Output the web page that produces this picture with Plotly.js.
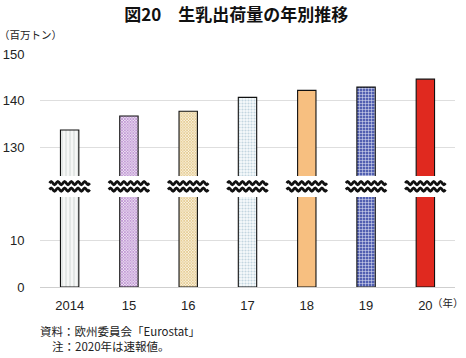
<!DOCTYPE html>
<html>
<head>
<meta charset="utf-8">
<script src="https://cdn.plot.ly/plotly-3.0.1.min.js"></script>
<style>
html,body{margin:0;padding:0;background:#fff;}
#chart{width:466px;height:358px;}
</style>
</head>
<body>
<div id="chart"></div>
<script>
// ---- data ----
const years = ["2014", "15", "16", "17", "18", "19", "20"];
const milkDeliveries = [133.7, 136.7, 137.7, 140.7, 142.2, 142.9, 144.6]; // 百万トン
const yTickValues = [0, 10, 130, 140, 150];
const yTickLabels = ["0", "10", "130", "140", "150"];

// ---- axis break (values above the break are shifted down) ----
const BREAK_OFFSET = 100;   // 130 is drawn where 30 would be
const BREAK_LOW = 10;
const toAxis = v => (v > BREAK_LOW ? v - BREAK_OFFSET : v);
const BREAK_Y = 21.6;

const fills = [
  {color:"#f4f6f5", pattern:{shape:"|", fgcolor:"#dfe4e1", bgcolor:"#f6f7f6", size:4, solidity:0.4}},
  {color:"#ffffff", pattern:{shape:"x", fgcolor:"#a870c4", bgcolor:"#efe4f4", size:2, solidity:0.5}},
  {color:"#ffffff", pattern:{shape:"x", fgcolor:"#dcb96e", bgcolor:"#faf2e0", size:2, solidity:0.5}},
  {color:"#ffffff", pattern:{shape:".", fgcolor:"#c3d6e0", bgcolor:"#f8fbfc", size:3, solidity:0.4}},
  {color:"#f7bf80"},
  {color:"#ffffff", pattern:{shape:"+", fgcolor:"#e6e8f6", bgcolor:"#5260b2", size:3, solidity:0.3}},
  {color:"#e0291f"}
];

const xIdx = years.map((_, i) => i);
const traces = xIdx.map(i => ({
  type: "bar",
  x: [i],
  y: [toAxis(milkDeliveries[i])],
  width: 0.31,
  marker: Object.assign({line:{color:"#111", width:1.1}}, fills[i].pattern ? {color: fills[i].color, pattern: fills[i].pattern} : {color: fills[i].color}),
  hoverinfo: "skip",
  showlegend: false
}));

// break marks drawn on each bar
const shapes = [];
const halfW = 0.34, amp = 0.33, periods = 6;
function wave(cx, cy) {
  const n = periods * 8;
  let d = "";
  for (let k = 0; k <= n; k++) {
    const t = k / n;
    const x = cx - halfW + 2 * halfW * t;
    const y = cy + amp * Math.sin(t * periods * 2 * Math.PI);
    d += (k === 0 ? "M " : " L ") + x.toFixed(4) + "," + y.toFixed(4);
  }
  return d;
}
xIdx.forEach(i => {
  shapes.push({type:"rect", xref:"x", yref:"y", x0:i-halfW-0.01, x1:i+halfW+0.01, y0:BREAK_Y-2.3, y1:BREAK_Y+2.2,
    fillcolor:"#ffffff", line:{width:0}, layer:"above"});
  shapes.push({type:"path", xref:"x", yref:"y", path: wave(i, BREAK_Y + 0.7), line:{color:"#111", width:2.7}, layer:"above"});
  shapes.push({type:"path", xref:"x", yref:"y", path: wave(i, BREAK_Y - 0.7), line:{color:"#111", width:2.7}, layer:"above"});
});

const numFont = {family:"Liberation Sans, Arial, sans-serif", size:13, color:"#222"};
const jpFont = "Noto Sans CJK JP, sans-serif";

const layout = {
  width: 466, height: 358,
  margin: {l:40, r:11, t:54, b:71},
  paper_bgcolor:"#fff", plot_bgcolor:"#fff",
  title: {text:"図20　生乳出荷量の年別推移", x:0.507, xanchor:"center", y:0.957, yanchor:"middle",
    font:{family:jpFont, size:17, color:"#111", weight:"bold"}},
  xaxis: {
    type:"linear", range:[-0.5, 6.5],
    tickvals: xIdx, ticktext: years,
    tickfont: numFont, ticks:"outside", ticklen:6, tickcolor:"rgba(0,0,0,0)",
    showgrid:false, zeroline:false,
    showline:true, linecolor:"#cfcfcf", linewidth:1.2, fixedrange:true
  },
  yaxis: {
    range:[0, 50],
    tickvals: yTickValues.map(toAxis), ticktext: yTickLabels,
    tickfont: numFont, ticks:"outside", ticklen:12, tickcolor:"rgba(0,0,0,0)",
    showgrid:true, gridcolor:"#dedede", gridwidth:1,
    zeroline:false, showline:false, fixedrange:true
  },
  shapes: shapes,
  annotations: [
    {text:"（百万トン）", xref:"paper", yref:"paper", x:-40/415, y:1+19/233, xanchor:"left", yanchor:"middle",
      showarrow:false, font:{family:jpFont, size:10.5, color:"#222"}, xshift:-3},
    {text:"（年）", xref:"paper", yref:"paper", x:1, y:-15/233, xanchor:"right", yanchor:"middle",
      showarrow:false, font:{family:jpFont, size:10.5, color:"#222"}, xshift:11},
    {text:"資料：欧州委員会「Eurostat」", xref:"paper", yref:"paper", x:0, y:-44/233, xanchor:"left", yanchor:"middle",
      showarrow:false, font:{family:jpFont, size:11.5, color:"#222"}, xshift:-2},
    {text:"注：2020年は速報値。", xref:"paper", yref:"paper", x:0, y:-59/233, xanchor:"left", yanchor:"middle",
      showarrow:false, font:{family:jpFont, size:11.5, color:"#222"}, xshift:10}
  ]
};

Plotly.newPlot("chart", traces, layout, {staticPlot:true, displayModeBar:false});
</script>
</body>
</html>
